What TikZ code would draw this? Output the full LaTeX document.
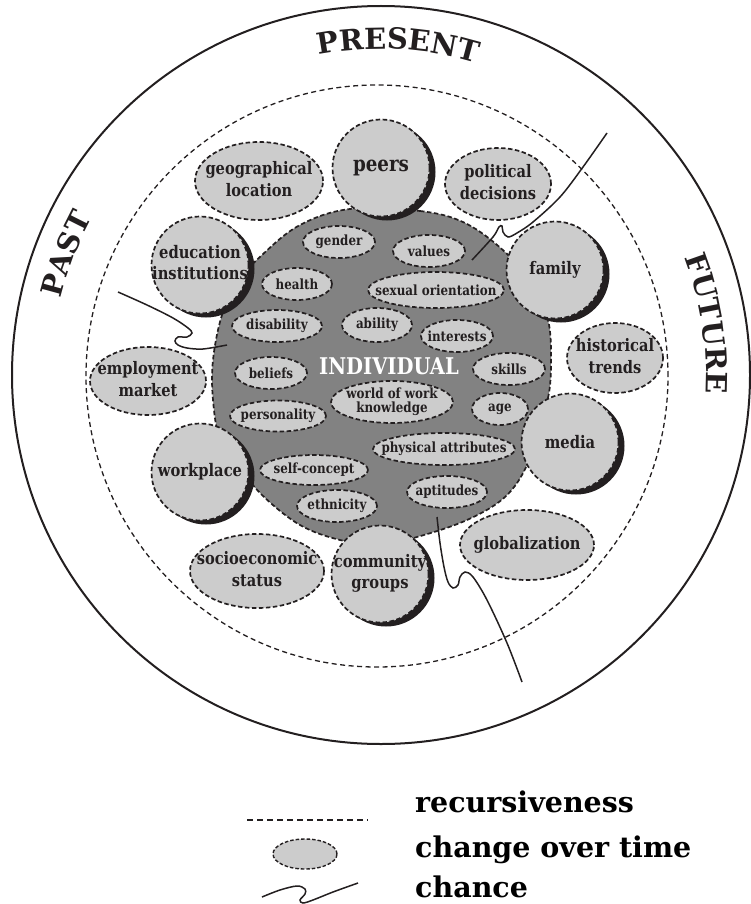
\documentclass[tikz,border=0pt]{standalone}
\usepackage{fontspec}
\setmainfont{DejaVu Serif}[FakeStretch=0.85]
\newfontfamily\widefont{DejaVu Serif}
\usetikzlibrary{shapes.geometric,decorations.text}
\definecolor{ink}{HTML}{231F20}
\definecolor{lightg}{HTML}{CCCCCC}
\definecolor{darkg}{HTML}{828282}
\newcommand\zb[1]{\makebox[0pt]{#1}}
\newcommand\tl[2]{\makebox[0pt]{\begin{tabular}{@{}c@{}}#1\\#2\end{tabular}}}
\tikzset{
  dsh/.style={dash pattern=on 4.5pt off 2.5pt},
  oval/.style={ellipse, draw=ink, fill=lightg, line width=1.7pt, dsh, inner sep=0pt, text=ink},
  bigc/.style={circle, draw=ink, fill=lightg, line width=1.7pt, dsh, inner sep=0pt, minimum size=97pt, text=ink, font=\fontsize{17.3}{21}\selectfont\bfseries},
  outf/.style={font=\fontsize{17.2}{21.5}\selectfont\bfseries},
  inf/.style={font=\fontsize{14}{12.5}\selectfont\bfseries},
  chance/.style={draw=ink, line width=1.5pt},
  ttl/.style={decorate, decoration={text along path, text align=center, text color=ink}},
  legtext/.style={anchor=base west, inner sep=0, text=black, font=\widefont\fontsize{28.5}{28.5}\selectfont\bfseries},
}
\newcommand\shadcirc[4]{%
  \fill[ink] (#2+6,#3-4) circle[radius=48.5];
  \node[bigc] (#1) at (#2,#3) {#4};}
\begin{document}
\begin{tikzpicture}[x=1pt,y=1pt]
\useasboundingbox (0,0) rectangle (751,-904);
% outer circle
\draw[ink, line width=2pt] (381,-375) circle[radius=369];
% recursiveness circle
\draw[ink, line width=1.3pt, dash pattern=on 5pt off 3.5pt] (377,-376) circle[radius=291];
% titles
\path[ttl, decoration={text={|\widefont\fontsize{29}{29}\selectfont\bfseries|PRESENT}}]
  (381,-375) ++(115:326) arc[start angle=115, end angle=59, radius=326];
\path[ttl, decoration={text={|\widefont\fontsize{29}{29}\selectfont\bfseries|PAST}}]
  (381,-375) ++(190:329) arc[start angle=190, end angle=128, radius=329];
\path[ttl, decoration={text={|\widefont\fontsize{29}{29}\selectfont\bfseries|FUTURE}}]
  (381,-375) ++(42:325) arc[start angle=42, end angle=-24, radius=325];
% individual blob
\draw[ink, fill=darkg, line width=1.7pt, dsh] plot[smooth cycle, tension=0.6] coordinates {
 (350,-209) (420,-211) (465,-223) (505,-252) (532,-285) (548,-320) (551,-360) (548,-398)
 (535,-430) (527,-465) (505,-497) (467,-520) (417,-537) (378,-545) (340,-540) (300,-525)
 (262,-495) (238,-465) (220,-440) (213,-400) (213,-360) (222,-315) (238,-282) (262,-255) (300,-225)};
\node[text=white, font=\fontsize{23}{23}\selectfont\bfseries] (ind) at (389,-366) {INDIVIDUAL};
% outer ovals
\node[oval, outf, minimum width=128, minimum height=78] (geo) at (259,-181) {\tl{geographical}{location}};
\node[oval, outf, minimum width=106, minimum height=72] (pol) at (498,-184) {\tl{political}{decisions}};
\node[oval, outf, minimum width=116, minimum height=68] (emp) at (148,-381) {\tl{employment}{market}};
\node[oval, outf, minimum width=96, minimum height=70] (his) at (615,-358) {\tl{historical}{trends}};
\node[oval, outf, minimum width=134, minimum height=70] (glo) at (527,-545) {\zb{globalization}};
\node[oval, outf, minimum width=134, minimum height=74] (soc) at (257,-571) {\tl{socioeconomic}{status}};
% big circles
\shadcirc{peers}{381}{-168}{\zb{\fontsize{21.5}{21.5}\selectfont peers}}
\shadcirc{fam}{555}{-270}{\zb{family}}
\shadcirc{med}{570}{-442}{\zb{media}}
\shadcirc{com}{380}{-574}{\tl{community}{groups}}
\shadcirc{work}{200}{-472}{\zb{workplace}}
\shadcirc{edu}{200}{-265}{\tl{education}{institutions}}
% inner ovals
\node[oval, inf, minimum width=72, minimum height=32] (gen) at (339,-242) {\zb{gender}};
\node[oval, inf, minimum width=72, minimum height=32] (val) at (429,-251) {\zb{values}};
\node[oval, inf, minimum width=70, minimum height=32] (hea) at (297,-284) {\zb{health}};
\node[oval, inf, minimum width=136, minimum height=36] (sex) at (436,-290) {\zb{sexual orientation}};
\node[oval, inf, minimum width=90, minimum height=32] (dis) at (277,-326) {\zb{disability}};
\node[oval, inf, minimum width=70, minimum height=34] (abi) at (377,-325) {\zb{ability}};
\node[oval, inf, minimum width=72, minimum height=32] (int) at (457,-336) {\zb{interests}};
\node[oval, inf, minimum width=72, minimum height=32] (ski) at (509,-369) {\zb{skills}};
\node[oval, inf, minimum width=72, minimum height=32] (bel) at (271,-373) {\zb{beliefs}};
\node[oval, inf, minimum width=122, minimum height=42] (wow) at (392,-402) {\tl{world of work}{knowledge}};
\node[oval, inf, minimum width=96, minimum height=31] (per) at (278,-416) {\zb{personality}};
\node[oval, inf, minimum width=56, minimum height=32] (age) at (500,-409) {\zb{age}};
\node[oval, inf, minimum width=142, minimum height=32] (phy) at (444,-449) {\zb{physical attributes}};
\node[oval, inf, minimum width=108, minimum height=30] (sel) at (314,-470) {\zb{self-concept}};
\node[oval, inf, minimum width=80, minimum height=32] (apt) at (447,-492) {\zb{aptitudes}};
\node[oval, inf, minimum width=80, minimum height=32] (eth) at (337,-506) {\zb{ethnicity}};
% chance lines
\draw[chance] plot[smooth, tension=0.55] coordinates {(607,-133) (583,-167) (560,-197) (533,-222) (517,-233) (508,-237) (503,-232) (502,-226) (499,-227) (493,-237) (472,-260)};
\draw[chance] plot[smooth, tension=0.55] coordinates {(118,-292) (147,-305) (173,-318) (188,-328) (192,-333) (187,-337) (178,-337) (175,-341) (178,-345) (187,-348) (203,-349) (227,-345)};
\draw[chance] plot[smooth, tension=0.55] coordinates {(437,-517) (440,-543) (444,-567) (448,-582) (453,-588) (458,-585) (460,-577) (465,-572) (473,-577) (487,-600) (507,-643) (522,-682)};
% legend
\coordinate (l1a) at (247,-820);
\coordinate (l1b) at (368,-820);
\draw[ink, line width=1.3pt, dash pattern=on 6pt off 4pt] (l1a) -- (l1b);
\node[oval, minimum width=64, minimum height=30, line width=1.4pt, dash pattern=on 3.5pt off 2pt] (leg) at (305,-854) {};
\draw[chance] plot[smooth, tension=0.55] coordinates {(262,-897) (280,-890) (297,-886) (305,-889) (305,-894) (300,-900) (303,-903) (313,-900) (333,-892) (358,-883)};
\node[legtext] (t1) at (415,-812) {recursiveness};
\node[legtext] (t2) at (415,-857) {change over time};
\node[legtext] (t3) at (415,-897) {chance};
\end{tikzpicture}
\end{document}
